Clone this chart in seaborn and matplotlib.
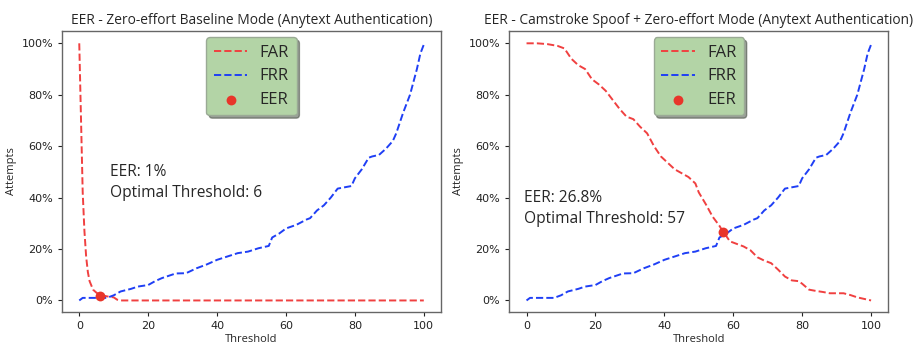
import numpy as np
import pandas as pd
import matplotlib
matplotlib.use("Agg")
import matplotlib.pyplot as plt
import seaborn as sns
from matplotlib.ticker import PercentFormatter

sns.set_style("ticks")
plt.rcParams['font.family'] = ['DejaVu Sans']

# ---------------- data ----------------
# FRR curve (shared by both panels)
frr_x = [0, 1, 8, 10, 12, 15, 17, 20, 22, 24, 28, 31, 34, 37, 40, 43, 46, 49,
         52, 55, 56, 58, 60, 63, 66, 67, 69, 71, 73, 75, 77, 79, 80, 82, 84,
         85, 87, 89, 91, 92, 93, 94, 96, 97, 98, 99, 100]
frr_y = [0, 1, 1, 2, 3.5, 4.5, 5.4, 6, 7.5, 8.7, 10.5, 10.6, 12.5, 14, 15.8,
         17.1, 18.4, 19, 20.3, 21.2, 24.5, 26, 28, 29.4, 31.5, 32, 35, 37,
         40, 43.5, 44, 44.5, 47.5, 51, 55.5, 56, 56.6, 59, 62, 65, 69, 73,
         80, 85, 90, 96, 99.5]

# FAR - zero-effort baseline
far1_x = [0, 1, 1.5, 2, 2.5, 3, 4, 5, 6, 8, 10, 11, 12, 100]
far1_y = [100, 42, 27, 17, 11, 7.5, 4.2, 3, 2.2, 1.6, 1.2, 0.3, 0, 0]

# FAR - camstroke spoof + zero-effort
far2_x = [0, 3, 6, 9, 11, 13, 15, 17, 19, 21, 23, 25, 27, 29, 31, 33, 35, 37,
          39, 41, 43, 45, 47, 49, 50, 52, 54, 56, 57, 58, 59, 61, 63, 65, 67,
          69, 71, 73, 75, 77, 79, 80, 82, 84, 86, 88, 90, 92, 94, 96, 98, 100]
far2_y = [100, 100, 99.7, 99, 98, 94, 91.5, 90, 86, 84, 81.5, 78, 74.5, 71.5,
          70.5, 67.5, 65, 60, 56, 53.5, 51, 49.5, 48, 45.5, 42, 37.5, 32.6,
          29, 26.8, 25, 23, 22, 21, 19.5, 16.8, 15.5, 14.5, 12, 9.3, 7.8, 7.5,
          6.5, 4.2, 3.7, 3.3, 2.8, 2.8, 2.8, 2.1, 1.2, 0.6, 0]

titles = ["EER - Zero-effort Baseline Mode (Anytext Authentication)",
          "EER - Camstroke Spoof + Zero-effort Mode (Anytext Authentication)"]
eer_x = [6, 57]
eer_y = [1.7, 26.8]
eer_labels = ["EER: 1%", "EER: 26.8%"]
thr_labels = ["Optimal Threshold: 6", "Optimal Threshold: 57"]

# ---------------- plot ----------------
fig = plt.figure(figsize=(9.19, 3.49), dpi=100)
ax1 = fig.add_axes([0.0675, 0.1052, 0.4124, 0.8068])
ax2 = fig.add_axes([0.5542, 0.1052, 0.4124, 0.8068])
axes = [ax1, ax2]

far_x = [far1_x, far2_x]
far_y = [far1_y, far2_y]
text_pos = [(9, 50), (-0.8, 40)]

red = "#f04040"
blue = "#1f3ff5"
dot = "#e8352a"
txt_font = ["Open Sans", "DejaVu Sans"]

for i, ax in enumerate(axes):
    sns.lineplot(x=far_x[i], y=far_y[i], ax=ax, color=red, linestyle="--",
                 linewidth=1.4, label="FAR")
    sns.lineplot(x=frr_x, y=frr_y, ax=ax, color=blue, linestyle="--",
                 linewidth=1.4, label="FRR")
    sns.scatterplot(x=[eer_x[i]], y=[eer_y[i]], ax=ax, color=dot, s=50,
                    edgecolor=dot, linewidth=0, label="EER", zorder=5)
    ax.set_xlim(-5, 105)
    ax.set_ylim(-4.6, 104.9)
    ax.set_xticks([0, 20, 40, 60, 80, 100])
    ax.set_yticks([0, 20, 40, 60, 80, 100])
    ax.yaxis.set_major_formatter(PercentFormatter(100, decimals=0))
    ax.tick_params(labelsize=8, length=3, width=0.8, colors="#222222")
    ax.set_xlabel("Threshold", fontsize=8, family=txt_font, labelpad=2)
    ax.set_ylabel("Attempts", fontsize=8, family=txt_font, labelpad=3)
    ax.set_title(titles[i], fontsize=9.9, family=txt_font, pad=5)
    for sp in ax.spines.values():
        sp.set_visible(True)
        sp.set_color("#666666")
        sp.set_linewidth(1.0)
    tx, ty = text_pos[i]
    ax.text(tx, ty, eer_labels[i], fontsize=11.2, family=txt_font,
            va="center", ha="left")
    ax.text(tx, ty - 8.2, thr_labels[i], fontsize=11.2, family=txt_font,
            va="center", ha="left")
    leg = ax.legend(loc="upper center", prop={"family": txt_font, "size": 12},
                    fancybox=True, shadow=True, handlelength=2.0,
                    borderpad=0.45, labelspacing=0.45, handletextpad=0.75,
                    borderaxespad=0.4)
    frame = leg.get_frame()
    frame.set_facecolor("#b3d4a6")
    frame.set_alpha(1.0)
    frame.set_edgecolor("#9aaa95")

fig.savefig("out.png", dpi=100)
